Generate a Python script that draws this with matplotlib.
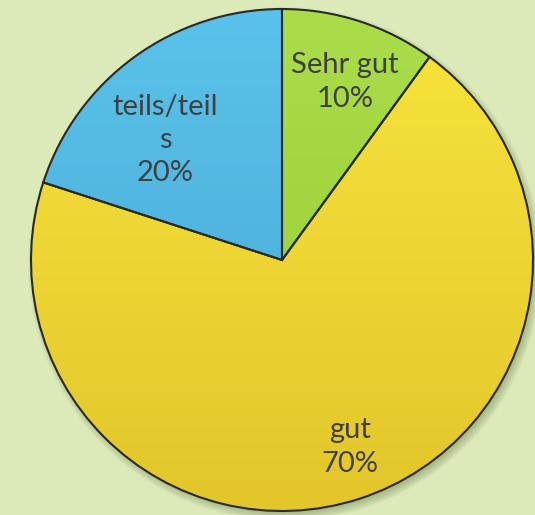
import numpy as np
import matplotlib
matplotlib.use("Agg")
import matplotlib.pyplot as plt
from matplotlib.patches import Circle
from matplotlib.colors import LinearSegmentedColormap

# ---- data ----
categories = ["Sehr gut", "gut", "teils/teil\ns"]
values = [10, 70, 20]
pct_labels = ["10%", "70%", "20%"]
top_colors = ["#aadd4a", "#f8e43c", "#5ac2ea"]
bottom_colors = ["#94cc30", "#e2c62a", "#46a8d2"]

W, H = 535, 515
fig = plt.figure(figsize=(W / 100, H / 100), dpi=100)
fig.patch.set_facecolor("#dbeab8")
ax = fig.add_axes([0, 0, 1, 1])

cx, cy, R = 282, H - 260, 251

# soft drop shadow
for i in range(12):
    ax.add_patch(Circle((cx + 3, cy - 4), R + 6 - i * 0.8, facecolor="#5a6a40",
                        alpha=0.035, edgecolor="none", zorder=0))

wedges, _ = ax.pie(values, center=(cx, cy), radius=R, startangle=90,
                   counterclock=False, colors=top_colors,
                   wedgeprops=dict(edgecolor="#2a2a2a", linewidth=1.5),
                   frame=True)
ax.set_xlim(0, W)
ax.set_ylim(0, H)
ax.set_aspect("equal")
ax.axis("off")

# vertical gradient in each wedge
for w, c1, c2 in zip(wedges, top_colors, bottom_colors):
    cmap = LinearSegmentedColormap.from_list("g", [c2, c1])
    grad = np.linspace(0, 1, 256).reshape(-1, 1)
    im = ax.imshow(grad, cmap=cmap, origin="lower", aspect="auto",
                   extent=(cx - R, cx + R, cy - R, cy + R), zorder=1.5,
                   interpolation="bilinear")
    im.set_clip_path(w)
    w.set_zorder(2)
    w.set_facecolor("none")

# labels
text_props = dict(ha="center", va="center", color="#404040",
                  fontsize=21, family="Lato", zorder=5, linespacing=1.35)
label_pos = [(345, 82), (350, 447), (165, 140)]
for cat, pct, (x, y) in zip(categories, pct_labels, label_pos):
    ax.text(x, H - y, f"{cat}\n{pct}", **text_props)

fig.savefig("out.png", dpi=100, facecolor=fig.get_facecolor())
